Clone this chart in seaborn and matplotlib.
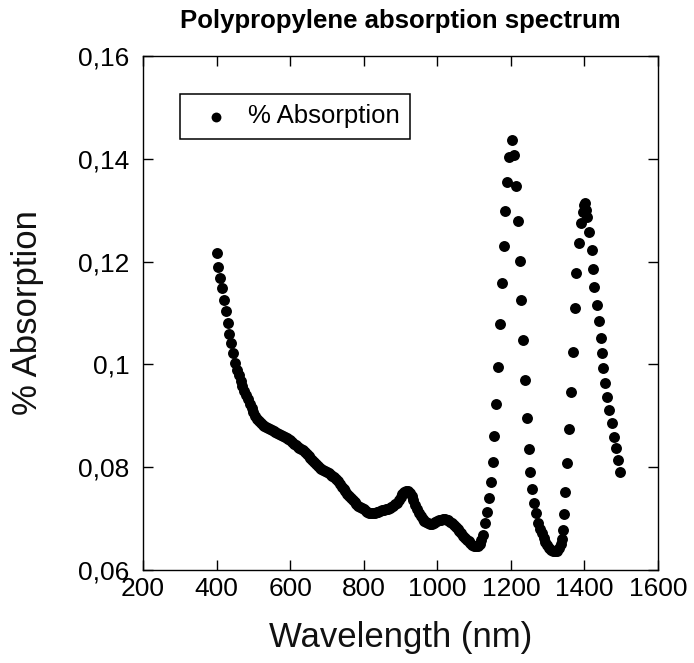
import matplotlib
matplotlib.use("Agg")
import matplotlib.pyplot as plt
import seaborn as sns
import pandas as pd

# Measured spectrum: wavelength (nm) and absorption
wavelength_nm = [
    400, 405, 410, 415, 420, 425, 430, 435, 440, 445, 450, 455, 460, 465, 470,
    475, 480, 485, 490, 495, 500, 505, 510, 515, 520, 525, 530, 535, 540, 545,
    550, 555, 560, 565, 570, 575, 580, 585, 590, 595, 600, 605, 610, 615, 620,
    625, 630, 635, 640, 645, 650, 655, 660, 665, 670, 675, 680, 685, 690, 695,
    700, 705, 710, 715, 720, 725, 730, 735, 740, 745, 750, 755, 760, 765, 770,
    775, 780, 785, 790, 795, 800, 805, 810, 815, 820, 825, 830, 835, 840, 845,
    850, 855, 860, 865, 870, 875, 880, 885, 890, 895, 900, 905, 910, 915, 920,
    925, 930, 935, 940, 945, 950, 955, 960, 965, 970, 975, 980, 985, 990, 995,
    1000, 1005, 1010, 1015, 1020, 1025, 1030, 1035, 1040, 1045, 1050, 1055,
    1060, 1065, 1070, 1075, 1080, 1085, 1090, 1095, 1100, 1105, 1110, 1115,
    1120, 1125, 1130, 1135, 1140, 1145, 1150, 1155, 1160, 1165, 1170, 1175,
    1180, 1185, 1190, 1195, 1202, 1209, 1214, 1219, 1224, 1228, 1233, 1237,
    1243, 1248, 1252, 1258, 1263, 1268, 1274, 1279, 1284, 1289, 1293, 1298,
    1304, 1309, 1314, 1320, 1325, 1331, 1335, 1338, 1341, 1343, 1347, 1352,
    1358, 1364, 1369, 1373, 1377, 1386, 1391, 1395, 1399, 1402, 1405, 1408,
    1413, 1420, 1424, 1427, 1434, 1439, 1444, 1448, 1451, 1456, 1461, 1467,
    1474, 1480, 1486, 1492, 1497,
]
absorption = [
    0.1216, 0.1190, 0.1168, 0.1148, 0.1125, 0.1103, 0.1080, 0.1060, 0.1041,
    0.1022, 0.1002, 0.0990, 0.0979, 0.0968, 0.0958, 0.0948, 0.0940, 0.0932,
    0.0923, 0.0915, 0.0907, 0.0900, 0.0894, 0.0889, 0.0885, 0.0882, 0.0880,
    0.0878, 0.0876, 0.0874, 0.0872, 0.0870, 0.0868, 0.0866, 0.0864, 0.0862,
    0.0860, 0.0858, 0.0856, 0.0854, 0.0852, 0.0849, 0.0846, 0.0843, 0.0840,
    0.0838, 0.0835, 0.0833, 0.0830, 0.0826, 0.0822, 0.0818, 0.0814, 0.0810,
    0.0806, 0.0802, 0.0799, 0.0796, 0.0794, 0.0792, 0.0790, 0.0788, 0.0785,
    0.0783, 0.0780, 0.0777, 0.0773, 0.0768, 0.0762, 0.0758, 0.0753, 0.0748,
    0.0744, 0.0740, 0.0736, 0.0732, 0.0728, 0.0725, 0.0722, 0.0720, 0.0718,
    0.0715, 0.0713, 0.0711, 0.0710, 0.0710, 0.0711, 0.0712, 0.0713, 0.0714,
    0.0716, 0.0717, 0.0718, 0.0719, 0.0720, 0.0722, 0.0725, 0.0728, 0.0731,
    0.0736, 0.0742, 0.0748, 0.0752, 0.0754, 0.0753, 0.0750, 0.0744, 0.0736,
    0.0727, 0.0718, 0.0711, 0.0705, 0.0700, 0.0696, 0.0693, 0.0691, 0.0690,
    0.0690, 0.0691, 0.0693, 0.0695, 0.0697, 0.0698, 0.0699, 0.0699, 0.0698,
    0.0697, 0.0694, 0.0691, 0.0687, 0.0683, 0.0679, 0.0675, 0.0671, 0.0667,
    0.0663, 0.0659, 0.0656, 0.0652, 0.0649, 0.0647, 0.0646, 0.0647, 0.0651,
    0.0658, 0.0668, 0.0691, 0.0713, 0.0740, 0.0772, 0.0811, 0.0861, 0.0923,
    0.0994, 0.1079, 0.1159, 0.1230, 0.1299, 0.1355, 0.1404, 0.1437, 0.1407,
    0.1347, 0.1278, 0.1202, 0.1125, 0.1047, 0.0970, 0.0896, 0.0836, 0.0790,
    0.0757, 0.0730, 0.0710, 0.0691, 0.0680, 0.0671, 0.0662, 0.0655, 0.0648,
    0.0642, 0.0639, 0.0637, 0.0636, 0.0637, 0.0642, 0.0650, 0.0660, 0.0678,
    0.0709, 0.0752, 0.0809, 0.0874, 0.0947, 0.1025, 0.1109, 0.1178, 0.1237,
    0.1275, 0.1297, 0.1310, 0.1313, 0.1300, 0.1287, 0.1258, 0.1223, 0.1186,
    0.1150, 0.1115, 0.1084, 0.1051, 0.1022, 0.0992, 0.0964, 0.0937, 0.0911,
    0.0885, 0.0859, 0.0837, 0.0814, 0.0791,
]

x_ticks = [200, 400, 600, 800, 1000, 1200, 1400, 1600]
y_ticks = [0.06, 0.08, 0.10, 0.12, 0.14, 0.16]
y_tick_labels = ["0,06", "0,08", "0,1", "0,12", "0,14", "0,16"]

sns.set_style("ticks")
plt.rcParams["font.family"] = ["Liberation Sans", "DejaVu Sans"]
plt.rcParams["xtick.direction"] = "in"
plt.rcParams["ytick.direction"] = "in"
plt.rcParams["text.color"] = "black"

df = pd.DataFrame({"Wavelength (nm)": wavelength_nm,
                   "% Absorption": absorption})

fig = plt.figure(figsize=(6.94, 6.63), dpi=100)
ax = fig.add_axes([0.2061, 0.1403, 0.7421, 0.7753])

sns.scatterplot(data=df, x="Wavelength (nm)", y="% Absorption", ax=ax,
                color="black", s=62, linewidth=0, label="% Absorption",
                legend=True)

ax.set_xlim(200, 1600)
ax.set_ylim(0.06, 0.16)
ax.set_xticks(x_ticks)
ax.set_xticklabels([str(t) for t in x_ticks])
ax.set_yticks(y_ticks)
ax.set_yticklabels(y_tick_labels)

ax.tick_params(axis="both", which="major", direction="in", length=7,
               width=1.0, labelsize=19, colors="black",
               top=True, right=True)
ax.tick_params(axis="x", pad=5)
ax.tick_params(axis="y", pad=10)
for sp in ax.spines.values():
    sp.set_visible(True)
    sp.set_linewidth(1.0)
    sp.set_color("black")

ax.set_xlabel("Wavelength (nm)", fontsize=25, color="#111111")
ax.set_ylabel("% Absorption", fontsize=25, color="#111111")
ax.xaxis.set_label_coords(0.5, -0.10)
ax.yaxis.set_label_coords(-0.192, 0.5)

ax.set_title("Polypropylene absorption spectrum", fontsize=18.5,
             fontweight="bold", pad=20, color="black")

leg = ax.legend(loc="upper left", bbox_to_anchor=(0.0718, 0.926),
                borderaxespad=0, fontsize=18.5, frameon=True, fancybox=False,
                framealpha=1, edgecolor="black", borderpad=0.4,
                handlelength=2.0, handletextpad=0.25, markerscale=0.9)
leg.get_frame().set_linewidth(1.1)

fig.savefig("out.png", dpi=100)
